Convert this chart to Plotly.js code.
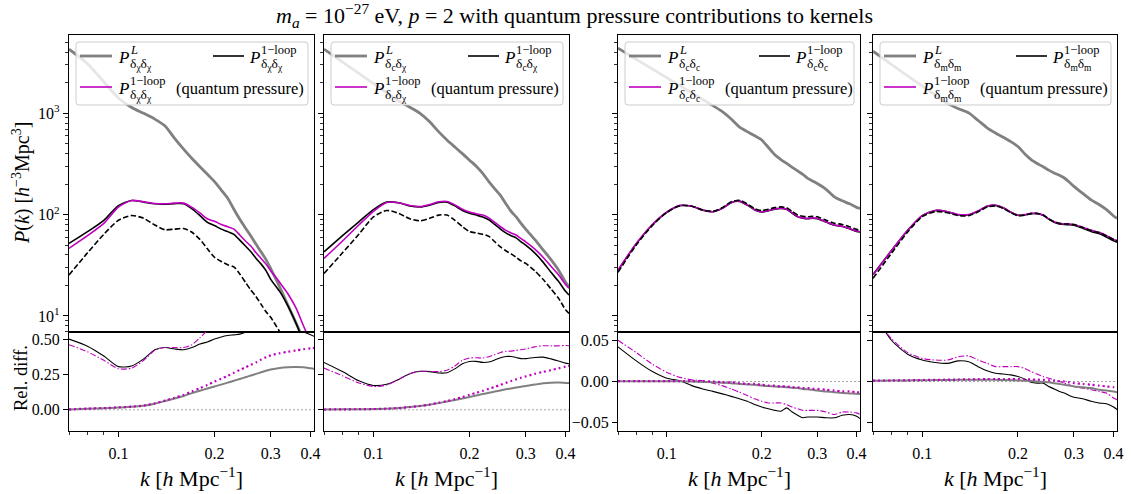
<!DOCTYPE html>
<html><head><meta charset="utf-8">
<script src="https://cdn.plot.ly/plotly-3.0.1.min.js"></script>
<style>html,body{margin:0;padding:0;background:#fff}#chart{width:1134px;height:494px}</style>
</head><body><div id="chart"></div>
<script>
// ---------- data ----------
const K = [0.07,0.08,0.09,0.10,0.11,0.12,0.13,0.14,0.15,0.16,0.17,0.18,0.19,0.20,0.21,0.22,0.23,0.24,0.25,0.26,0.27,0.28,0.29,0.30,0.32,0.34,0.36,0.38,0.40,0.41];

// panel 1: delta_chi delta_chi
const PL_chichi  = [4300,3090,2046,1418,1140,1000,877,750,566,443,358,297,250,212,175,145,113,90,74,61.5,51,42.7,36,29.3,19.4,12.7,8.55,5.9,4.1,3.4];
const P1L_chichi = [52,68,88,123,138,133,128,127,128.5,128,114,98,84,78,72,68,64,56,49,43,37,32.5,28,23,17.5,12.5,8.5,5.5,3.5,3];
const QP_chichi  = [46.5,62,82,119,138,134,129,128,130,130,118,104,91,86,80,76,72,63,55,49,42,37,32.5,28,21.5,16.5,12,8,5.5,4.5];
const DS_chichi  = [25.4,42,64,88,98,92,79,71,72,73,67,57,46,38,34.5,32,30.5,26,21.5,18,15.5,13,11,9.7,7,5,3.6,2.6,2,1.8];
const R1L_chichi = [0.50,0.45,0.38,0.305,0.31,0.36,0.425,0.44,0.43,0.425,0.44,0.465,0.48,0.50,0.515,0.525,0.53,0.535,0.548,0.565,0.58,0.59,0.60,0.60,0.60,0.59,0.57,0.55,0.53,0.52];
const RQP_chichi = [0.46,0.41,0.35,0.29,0.295,0.35,0.42,0.44,0.44,0.44,0.46,0.51,0.56,0.60,0.63,0.65,0.66,0.67,0.68,0.68,0.68,0.68,0.68,0.67,0.66,0.65,0.64,0.63,0.62,0.61];
const RDT_chichi = [0.003,0.008,0.012,0.017,0.022,0.03,0.045,0.065,0.085,0.105,0.13,0.153,0.175,0.2,0.22,0.24,0.262,0.282,0.3,0.318,0.335,0.355,0.372,0.385,0.4,0.41,0.42,0.428,0.435,0.437];
const RPL_chichi = [0.002,0.007,0.011,0.016,0.021,0.029,0.043,0.062,0.08,0.098,0.118,0.135,0.15,0.165,0.178,0.192,0.205,0.218,0.23,0.242,0.254,0.265,0.276,0.285,0.296,0.301,0.302,0.3,0.293,0.29];

// panel 2: delta_c delta_chi
const PL_cchi  = [4300,3205,2478,1968,1596,1320,1150,1000,826,660,546,465,400,345,300,255,212,180,155,128,108,95,82,72,57,45,36,28.5,21.5,19.4];
const P1L_cchi = [43,62,85,112,133,131,122,119,124,132,133,122,110,103,99,95,89,80,72,66,62,59,54,50,42,34,27,22,17.5,16.1];
const QP_cchi  = [37,55,79,108,132,131,123,120,126,134,135,125,113,106,102,99,93,84,76,70,66,63,58,54,46,38,31,25.5,20.5,18.8];
const DS_cchi  = [26.3,42,64,95,110,103,91,87,92,99,99,88,76,68,66,64,61,54,48,44,41,38,35,33,28,23,18.5,15,11.5,10.6];
const R1L_cchi = [0.335,0.27,0.205,0.172,0.18,0.215,0.255,0.272,0.27,0.26,0.262,0.29,0.325,0.342,0.342,0.335,0.338,0.352,0.368,0.377,0.377,0.37,0.362,0.362,0.37,0.372,0.36,0.345,0.33,0.325];
const RQP_cchi = [0.295,0.24,0.19,0.165,0.175,0.215,0.255,0.272,0.272,0.27,0.28,0.31,0.35,0.366,0.368,0.366,0.375,0.39,0.405,0.413,0.415,0.42,0.425,0.43,0.445,0.453,0.452,0.452,0.455,0.453];
const RDT_cchi = [0.002,0.003,0.004,0.005,0.008,0.012,0.019,0.027,0.037,0.05,0.062,0.075,0.09,0.106,0.12,0.134,0.148,0.162,0.176,0.19,0.203,0.215,0.226,0.236,0.254,0.268,0.28,0.293,0.305,0.311];
const RPL_cchi = [0.002,0.003,0.004,0.005,0.008,0.012,0.019,0.027,0.036,0.047,0.058,0.069,0.08,0.091,0.101,0.111,0.12,0.129,0.137,0.145,0.151,0.157,0.163,0.168,0.178,0.187,0.192,0.193,0.19,0.189];

// panel 3: delta_c delta_c
const PL_cc  = [4400,3410,2735,2245,1875,1592,1370,1190,1040,880,730,660,600,546,460,390,350,320,293,270,250,228,215,203,178,150,137,128,118,115];
const P1L_cc = [28.2,51.6,79.5,105.7,122.8,120.9,110.9,106.8,115.6,131.4,135.2,124.2,111.3,106.4,109.2,113.1,115.1,112.4,103.2,95.2,92.2,91.1,92.1,91.2,84.4,78.5,76.4,72.5,68.4,67.5];
const QP_cc  = [28.4,52,80,106,123,121,111,107,116,132,136,125,112,107,110,114,116,113,104,96,93,92,93,92,85,79,77,73,69,68];
const DS_cc  = [27.0,50.3,78.4,105.2,122.6,121.1,111.4,107.8,117.3,133.9,138.4,127.5,114.6,109.9,113.1,117.4,119.3,116.9,107.6,99.4,96.4,95.3,96.4,95.3,88.3,82.2,80.1,75.8,71.6,70.6];
const R1L_cc = [0.042,0.025,0.012,0.004,0.001,-0.005,-0.009,-0.012,-0.015,-0.018,-0.021,-0.024,-0.028,-0.031,-0.033,-0.035,-0.036,-0.032,-0.037,-0.041,-0.044,-0.043,-0.043,-0.043,-0.044,-0.044,-0.041,-0.04,-0.042,-0.045];
const RQP_cc = [0.05,0.035,0.021,0.011,0.005,0.002,0.001,-0.002,-0.005,-0.009,-0.013,-0.017,-0.021,-0.024,-0.026,-0.026,-0.026,-0.028,-0.031,-0.033,-0.035,-0.035,-0.035,-0.035,-0.037,-0.04,-0.037,-0.037,-0.038,-0.04];
const RDT_cc = [0.0005,0.0005,0.0005,0.0005,0.0005,0.0005,0.0005,0,-0.001,-0.001,-0.002,-0.003,-0.003,-0.004,-0.005,-0.005,-0.006,-0.006,-0.007,-0.007,-0.008,-0.008,-0.009,-0.009,-0.01,-0.011,-0.012,-0.012,-0.013,-0.013];
const RPL_cc = [0.0003,0.0003,0.0003,0.0003,0.0002,0,-0.0005,-0.001,-0.0015,-0.002,-0.003,-0.0035,-0.004,-0.005,-0.0055,-0.006,-0.0065,-0.007,-0.0075,-0.008,-0.009,-0.0095,-0.01,-0.011,-0.012,-0.013,-0.014,-0.0145,-0.015,-0.015];

// panel 4: delta_m delta_m
const PL_mm  = [4100,3035,2345,1862,1514,1253,1110,1010,850,720,640,580,525,470,400,350,320,297,275,258,245,230,210,190,162,140,126,112,97,92];
const P1L_mm = [25.6,44.2,70.1,97.9,109.9,106.8,99.8,99.7,108.7,120.7,123.6,116.6,105.6,98.6,99.4,102.3,102.4,98.5,90.3,84.2,81.0,79.9,79.6,78.6,73.3,68.2,65.0,60.0,55.2,53.3];
const QP_mm  = [25.4,44,70,98,110,107,100,100,109,121,124,117,106,99,100,103,103,99,91,85,82,81,81,80,75,70,67,62,57,55.8];
const DS_mm  = [23.5,41.5,67.5,95.5,107.5,104.5,97.8,97.6,106.8,118.8,122,115.2,104.6,97.8,99,102.3,102.7,99.2,90.8,85,82,81,80.9,80,74.8,69.8,66.5,61.7,57,55.1];
const R1L_mm = [0.085,0.05,0.033,0.026,0.023,0.022,0.025,0.024,0.018,0.013,0.01,0.009,0.008,0.006,0.003,-0.001,-0.002,-0.002,-0.006,-0.009,-0.012,-0.014,-0.017,-0.019,-0.021,-0.024,-0.026,-0.027,-0.031,-0.034];
const RQP_mm = [0.08,0.052,0.035,0.028,0.026,0.026,0.03,0.031,0.026,0.022,0.018,0.018,0.018,0.018,0.016,0.012,0.009,0.006,0.004,0.002,0,-0.002,-0.004,-0.006,-0.008,-0.01,-0.012,-0.014,-0.02,-0.022];
const RDT_mm = [0.001,0.0012,0.0015,0.0018,0.002,0.0022,0.0024,0.0026,0.0028,0.003,0.003,0.003,0.003,0.003,0.0028,0.0025,0.0022,0.002,0.0015,0.001,0.0005,0,-0.001,-0.002,-0.003,-0.004,-0.005,-0.006,-0.007,-0.008];
const RPL_mm = [0.001,0.0011,0.0013,0.0015,0.0017,0.0018,0.002,0.002,0.002,0.002,0.002,0.0018,0.0016,0.0013,0.001,0.0005,0,-0.0005,-0.001,-0.002,-0.003,-0.004,-0.005,-0.006,-0.007,-0.008,-0.01,-0.011,-0.012,-0.013];

const SUBS = ['δ<sub>χ</sub>δ<sub>χ</sub>','δ<sub>c</sub>δ<sub>χ</sub>','δ<sub>c</sub>δ<sub>c</sub>','δ<sub>m</sub>δ<sub>m</sub>'];
const TOP_TICKS = [10,100,1000];
const TOP_TICKTEXT = ['10<sup>1</sup>','10<sup>2</sup>','10<sup>3</sup>'];
const X_TICKS = [0.1,0.2,0.3,0.4];
const X_TICKTEXT = ['0.1','0.2','0.3','0.4'];
const X_MINOR = [0.07,0.08,0.09];
const REL_A_TICKS = [0,0.25,0.5], REL_A_TEXT = ['0.00','0.25','0.50'];
const REL_B_TICKS = [-0.05,0,0.05], REL_B_TEXT = ['−0.05','0.00','0.05'];
const TITLE = '<i>m</i><sub><i>a</i></sub> = 10<sup>−27</sup> eV, <i>p</i> = 2 with quantum pressure contributions to kernels';

// ---------- layout helpers ----------
const W=1134, H=494;
const COLS=[{L:69,R:314},{L:324,R:569},{L:618,R:860},{L:873,R:1117}];
const TT=35, MID=332, BB=431;
const fx = px=>px/W, fy = py=>1-py/H;
const SER = "'Liberation Serif','DejaVu Serif',serif";
const MAG='#bf00bf', GRAY='#808080';

const panels = [
 {PL:PL_chichi,P1L:P1L_chichi,QP:QP_chichi,DS:DS_chichi,R1L:R1L_chichi,RQP:RQP_chichi,RDT:RDT_chichi,RPL:RPL_chichi,rel:'A'},
 {PL:PL_cchi,P1L:P1L_cchi,QP:QP_cchi,DS:DS_cchi,R1L:R1L_cchi,RQP:RQP_cchi,RDT:RDT_cchi,RPL:RPL_cchi,rel:'A'},
 {PL:PL_cc,P1L:P1L_cc,QP:QP_cc,DS:DS_cc,R1L:R1L_cc,RQP:RQP_cc,RDT:RDT_cc,RPL:RPL_cc,rel:'B'},
 {PL:PL_mm,P1L:P1L_mm,QP:QP_mm,DS:DS_mm,R1L:R1L_mm,RQP:RQP_mm,RDT:RDT_mm,RPL:RPL_mm,rel:'B'}
];

function tr(y, ax, name, line){
  return {type:'scatter',mode:'lines',x:K,y:y,xaxis:'x'+ax,yaxis:'y'+ax,name:name,
    line:Object.assign({shape:'spline',smoothing:0.7},line),showlegend:false,hoverinfo:'skip'};
}
const traces=[]; const layout={width:W,height:H,margin:{l:0,r:0,t:0,b:0},paper_bgcolor:'#fff',plot_bgcolor:'rgba(0,0,0,0)',
  showlegend:false,font:{family:SER,size:16,color:'#000'},shapes:[],annotations:[]};
const key=(p,n)=> n===1?p:p+n;
const logR=[Math.log10(0.07),Math.log10(0.41)];

panels.forEach((p,i)=>{
  const t=i+1, b=i+5, c=COLS[i];
  traces.push(tr(p.PL,t,'P^L',{color:GRAY,width:2.8}));
  traces.push(tr(p.P1L,t,'P 1-loop',{color:'#000',width:1.6}));
  traces.push(tr(p.QP,t,'P 1-loop (quantum pressure)',{color:MAG,width:1.6}));
  traces.push(tr(p.DS,t,'P 1-loop reference',{color:'#000',width:1.6,dash:'5.5px,2.4px'}));
  traces.push(tr(p.R1L,b,'rel 1-loop',{color:'#000',width:1.1}));
  traces.push(tr(p.RQP,b,'rel 1-loop QP',{color:MAG,width:1.1,dash:'6px,2px,1.5px,2px'}));
  traces.push(tr(p.RPL,b,'rel linear',{color:GRAY,width:2}));
  traces.push(tr(p.RDT,b,'rel linear QP',{color:MAG,width:2.2,dash:'2px,3px'}));

  const axBase={showline:true,mirror:true,linecolor:'#000',linewidth:1.1,showgrid:false,zeroline:false,
    tickcolor:'#000',tickfont:{family:SER,size:16,color:'#000'}};
  layout[key('xaxis',t)]=Object.assign({},axBase,{domain:[fx(c.L),fx(c.R)],anchor:'y'+t,type:'log',range:logR,
    ticks:'',showticklabels:false});
  layout[key('xaxis',b)]=Object.assign({},axBase,{domain:[fx(c.L),fx(c.R)],anchor:'y'+b,type:'log',range:logR,
    tickmode:'array',tickvals:X_TICKS,ticktext:X_TICKTEXT,ticks:'outside',ticklen:5,tickwidth:1,ticklabelstandoff:3,
    minor:{tickmode:'array',tickvals:X_MINOR,ticks:'outside',ticklen:3,tickwidth:0.8,tickcolor:'#000',showgrid:false}});
  const minorY=[]; [1,10,100,1000].forEach(d=>{for(let m=2;m<=9;m++){minorY.push(m*d);}});
  layout[key('yaxis',t)]=Object.assign({},axBase,{domain:[fy(MID),fy(TT)],anchor:'x'+t,type:'log',range:[0.842,3.773],
    tickmode:'array',tickvals:TOP_TICKS,ticktext:TOP_TICKTEXT,ticks:'outside',ticklen:5,tickwidth:1,showticklabels:i===0,
    minor:{tickmode:'array',tickvals:minorY,ticks:'outside',ticklen:3,tickwidth:0.8,tickcolor:'#000',showgrid:false}});
  const A=p.rel==='A';
  layout[key('yaxis',b)]=Object.assign({},axBase,{domain:[fy(BB),fy(MID)],anchor:'x'+b,
    range:A?[-0.15,0.55]:[-0.06,0.06],tickmode:'array',tickvals:A?REL_A_TICKS:REL_B_TICKS,ticktext:A?REL_A_TEXT:REL_B_TEXT,
    ticks:'outside',ticklen:5,tickwidth:1,showticklabels:(i===0||i===2)});

  // zero line
  layout.shapes.push({type:'line',xref:'x'+b+' domain',x0:0,x1:1,yref:'y'+b,y0:0,y1:0,layer:'below',
    line:{color:'#9a9a9a',width:0.9,dash:'2px,2px'}});

  // legend box
  const x0=c.L+7,x1=c.R-6,y0=TT+7,y1=TT+70,r=3;
  const P=(x,y)=>fx(x).toFixed(5)+','+fy(y).toFixed(5);
  const path='M'+P(x0+r,y0)+' L'+P(x1-r,y0)+' Q'+P(x1,y0)+' '+P(x1,y0+r)+' L'+P(x1,y1-r)+' Q'+P(x1,y1)+' '+P(x1-r,y1)+
    ' L'+P(x0+r,y1)+' Q'+P(x0,y1)+' '+P(x0,y1-r)+' L'+P(x0,y0+r)+' Q'+P(x0,y0)+' '+P(x0+r,y0)+' Z';
  layout.shapes.push({type:'path',xref:'paper',yref:'paper',path:path,layer:'above',
    fillcolor:'rgba(255,255,255,0.8)',line:{color:'#cccccc',width:1}});
  const r1=TT+21, r2=TT+52;
  const seg=(xa,xb,y,col,w)=>layout.shapes.push({type:'line',xref:'paper',yref:'paper',x0:fx(xa),x1:fx(xb),y0:fy(y),y1:fy(y),layer:'above',line:{color:col,width:w}});
  seg(c.L+11,c.L+43,r1,GRAY,2.8);
  seg(c.R-101,c.R-70,r1,'#000',1.6);
  seg(c.L+11,c.L+43,r2,MAG,1.6);
  const ann=(px,py,text,size)=>layout.annotations.push({xref:'paper',yref:'paper',x:fx(px),y:fy(py),text:text,showarrow:false,
    xanchor:'left',yanchor:'middle',borderpad:0,font:{family:SER,size:size,color:'#000'}});
  const label=(px,py,sup)=>{ ann(px,py+1,'<i>P</i>',17); ann(px+12,py-6,sup,12.5); ann(px+12,py+8.5,SUBS[i],13.5); };
  label(c.L+48,r1,'<i>L</i>');
  label(c.R-66,r1,'1−loop');
  label(c.L+48,r2,'1−loop');
  ann(c.L+106,r2+1,'(quantum pressure)',16.5);

  // x label
  layout.annotations.push({xref:'paper',yref:'paper',x:fx((c.L+c.R)/2),y:fy(477),text:'<i>k</i> [<i>h</i> Mpc<sup>−1</sup>]',
    showarrow:false,xanchor:'center',yanchor:'middle',font:{family:SER,size:22,color:'#000'}});
});

layout.annotations.push({xref:'paper',yref:'paper',x:fx(574),y:fy(15),text:TITLE,showarrow:false,xanchor:'center',yanchor:'middle',
  font:{family:SER,size:22,color:'#000'}});
layout.annotations.push({xref:'paper',yref:'paper',x:fx(21),y:fy(183),text:'<i>P</i>(<i>k</i>) [<i>h</i><sup>−3</sup>Mpc<sup>3</sup>]',
  textangle:-90,showarrow:false,xanchor:'center',yanchor:'middle',font:{family:SER,size:20,color:'#000'}});
layout.annotations.push({xref:'paper',yref:'paper',x:fx(21),y:fy(378),text:'Rel. diff.',
  textangle:-90,showarrow:false,xanchor:'center',yanchor:'middle',font:{family:SER,size:18.5,color:'#000'}});

Plotly.newPlot('chart',traces,layout,{staticPlot:true,displayModeBar:false});
</script>
</body></html>
